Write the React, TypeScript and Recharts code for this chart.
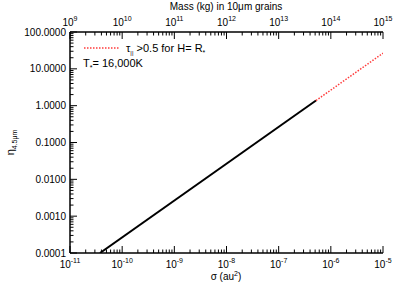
import React from "react";
import { ComposedChart, Line, XAxis, YAxis, Customized } from "recharts";

// σ (au²) and η values
const sigmaBlack = [3.76e-11, 5.2e-7];
const etaBlack = [1e-4, 1.38];
const sigmaRed = [5.2e-7, 1e-5];
const etaRed = [1.38, 26.6];

const xMajorExp = [-11, -10, -9, -8, -7, -6, -5];
const massExpOffset = 20; // mass (kg) = σ × 1e20 for 10µm grains
const yMajorLabels = ["0.0001", "0.0010", "0.0100", "0.1000", "1.0000", "10.0000", "100.0000"];
const yMajorExp = [-4, -3, -2, -1, 0, 1, 2];

const blackData = sigmaBlack.map((s, i) => ({ s, eta: etaBlack[i] }));
const redData = sigmaRed.map((s, i) => ({ s, eta: etaRed[i] }));

function logTicks(exps: number[]) {
  const out: number[] = [];
  exps.forEach((e, i) => {
    const last = i === exps.length - 1;
    for (let m = 1; m <= (last ? 1 : 9); m++) {
      out.push(Number((m * Math.pow(10, e)).toPrecision(3)));
    }
  });
  return out;
}
const xTicks = logTicks(xMajorExp);
const yTicks = logTicks(yMajorExp);

const isMajor = (v: number) => Math.abs(Math.log10(v) - Math.round(Math.log10(v))) < 1e-6;
const FONT = "'Liberation Sans', Arial, Helvetica, sans-serif";
const MAJ = 7;
const MIN = 3.5;

const BottomTick = (p: any) => {
  const { x, y, payload } = p;
  const v = payload.value;
  const maj = isMajor(v);
  const e = Math.round(Math.log10(v));
  return (
    <g>
      <line x1={x} y1={y} x2={x} y2={y - (maj ? MAJ : MIN)} stroke="#000" strokeWidth={1} />
      {maj && (
        <text x={x} y={y + 15} textAnchor="middle" fontSize={10} fontFamily={FONT} fill="#000">
          10<tspan dy={-5} fontSize={7}>{e}</tspan>
        </text>
      )}
    </g>
  );
};

const TopTick = (p: any) => {
  const { x, y, payload } = p;
  const v = payload.value;
  const maj = isMajor(v);
  const e = Math.round(Math.log10(v)) + massExpOffset;
  return (
    <g>
      <line x1={x} y1={y} x2={x} y2={y + (maj ? MAJ : MIN)} stroke="#000" strokeWidth={1} />
      {maj && (
        <text x={x} y={y - 6} textAnchor="middle" fontSize={10} fontFamily={FONT} fill="#000">
          10<tspan dy={-5} fontSize={7}>{e}</tspan>
        </text>
      )}
    </g>
  );
};

const LeftTick = (p: any) => {
  const { x, y, payload } = p;
  const v = payload.value;
  const maj = isMajor(v);
  const idx = yMajorExp.indexOf(Math.round(Math.log10(v)));
  return (
    <g>
      <line x1={x} y1={y} x2={x + (maj ? MAJ : MIN)} y2={y} stroke="#000" strokeWidth={1} />
      {maj && (
        <text x={x - 4} y={y + 3.5} textAnchor="end" fontSize={10} fontFamily={FONT} fill="#000">
          {yMajorLabels[idx]}
        </text>
      )}
    </g>
  );
};

const RightTick = (p: any) => {
  const { x, y, payload } = p;
  const maj = isMajor(payload.value);
  return <line x1={x} y1={y} x2={x - (maj ? MAJ : MIN)} y2={y} stroke="#000" strokeWidth={1} />;
};

const Annotations = () => (
  <g fontFamily={FONT} fill="#000">
    <text x={226} y={10} textAnchor="middle" fontSize={10}>Mass (kg) in 10μm grains</text>
    <text x={226} y={280} textAnchor="middle" fontSize={10}>
      σ  (au<tspan dy={-4} fontSize={7}>2</tspan><tspan dy={4}>)</tspan>
    </text>
    <text transform="translate(14,142.5) rotate(-90)" textAnchor="middle" fontSize={11}>
      η<tspan dy={3} fontSize={7}>4.5μm</tspan>
    </text>
    <line x1={84} y1={48} x2={119} y2={48} stroke="#ff3b3b" strokeWidth={1.5} strokeDasharray="1.5 1.5" />
    <text x={126} y={52} fontSize={11}>
      τ<tspan dy={3} fontSize={6}>||</tspan><tspan dy={-3}> &gt;0.5 for H=  R</tspan><tspan dy={3} fontSize={7}>*</tspan>
    </text>
    <text x={83} y={67} fontSize={11}>
      T<tspan dy={3} fontSize={7}>*</tspan><tspan dy={-3}>= 16,000K</tspan>
    </text>
  </g>
);

export default function App() {
  return (
    <div style={{ position: "absolute", left: 0, top: 0, width: 399, height: 285, background: "#fff" }}>
      <ComposedChart width={399} height={285} margin={{ top: 12, right: 16, bottom: 12, left: 10 }}>
        <XAxis
          xAxisId="bottom"
          dataKey="s"
          type="number"
          scale="log"
          domain={[1e-11, 1e-5]}
          allowDataOverflow
          ticks={xTicks}
          interval={0}
          height={20}
          tickSize={0}
          tickMargin={0}
          tickLine={false}
          stroke="#000"
          axisLine={{ stroke: "#000", strokeWidth: 1.5 }}
          tick={<BottomTick />}
        />
        <XAxis
          xAxisId="top"
          orientation="top"
          dataKey="s"
          type="number"
          scale="log"
          domain={[1e-11, 1e-5]}
          allowDataOverflow
          ticks={xTicks}
          interval={0}
          height={20}
          tickSize={0}
          tickMargin={0}
          tickLine={false}
          axisLine={{ stroke: "#000", strokeWidth: 1.5 }}
          tick={<TopTick />}
        />
        <YAxis
          yAxisId="left"
          dataKey="eta"
          type="number"
          scale="log"
          domain={[1e-4, 100]}
          allowDataOverflow
          ticks={yTicks}
          interval={0}
          width={60}
          tickSize={0}
          tickMargin={0}
          tickLine={false}
          axisLine={{ stroke: "#000", strokeWidth: 1.5 }}
          tick={<LeftTick />}
        />
        <YAxis
          yAxisId="right"
          orientation="right"
          dataKey="eta"
          type="number"
          scale="log"
          domain={[1e-4, 100]}
          allowDataOverflow
          ticks={yTicks}
          interval={0}
          width={0}
          tickSize={0}
          tickMargin={0}
          tickLine={false}
          axisLine={{ stroke: "#000", strokeWidth: 1.5 }}
          tick={<RightTick />}
        />
        <Line
          xAxisId="bottom"
          yAxisId="left"
          data={blackData}
          dataKey="eta"
          stroke="#000"
          strokeWidth={2}
          dot={false}
          isAnimationActive={false}
        />
        <Line
          xAxisId="bottom"
          yAxisId="left"
          data={redData}
          dataKey="eta"
          stroke="#ff3b3b"
          strokeWidth={1.5}
          strokeDasharray="1.5 1.5"
          dot={false}
          isAnimationActive={false}
        />
        <Customized component={Annotations} />
      </ComposedChart>
    </div>
  );
}
